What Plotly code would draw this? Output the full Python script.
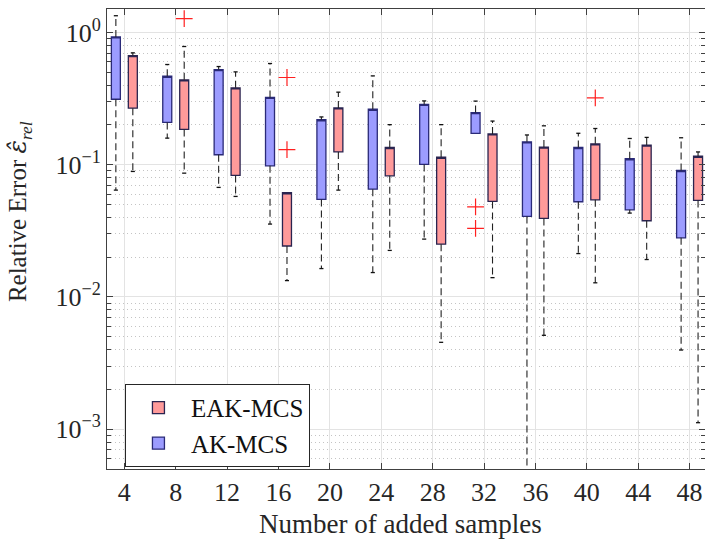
import plotly.graph_objects as go

samples = [4, 8, 12, 16, 20, 24, 28, 32, 36, 40, 44, 48]

# AK-MCS (blue)
ak_upper = [1.34, 0.573, 0.553, 0.583, 0.230, 0.470, 0.304, 0.303, 0.168, 0.173, 0.158, 0.160]
ak_q3 = [0.927, 0.467, 0.525, 0.323, 0.219, 0.263, 0.286, 0.248, 0.149, 0.135, 0.111, 0.0905]
ak_q1 = [0.313, 0.209, 0.119, 0.0982, 0.0547, 0.0654, 0.1005, 0.173, 0.0407, 0.0525, 0.0456, 0.0280]
ak_lower = [0.0643, 0.159, 0.0674, 0.0356, 0.0164, 0.0153, 0.0274, 0.173, 0.0002, 0.0213, 0.0431, 0.00397]
ak_out_x = [32, 32]
ak_out_y = [0.0481, 0.0330]

# EAK-MCS (red)
eak_upper = [0.702, 0.784, 0.504, 0.0614, 0.354, 0.201, 0.201, 0.214, 0.197, 0.188, 0.161, 0.125]
eak_q3 = [0.670, 0.439, 0.382, 0.0614, 0.269, 0.135, 0.114, 0.171, 0.136, 0.144, 0.141, 0.116]
eak_q1 = [0.268, 0.185, 0.0830, 0.0243, 0.125, 0.0824, 0.0251, 0.0528, 0.0393, 0.0543, 0.0377, 0.0537]
eak_lower = [0.0890, 0.0864, 0.0576, 0.0133, 0.0643, 0.0225, 0.00454, 0.0140, 0.00513, 0.0128, 0.0192, 0.00112]
eak_out_x = [8, 16, 16, 40]
eak_out_y = [1.276, 0.457, 0.130, 0.321]

y_tickvals = [1e-3, 1e-2, 1e-1, 1]
y_ticktext = ["10<sup>−3</sup>", "10<sup>−2</sup>", "10<sup>−1</sup>", "10<sup>0</sup>"]

FONT = "Liberation Serif"
OFF = 0.66
BOXW = 0.70
CAPW = 0.16

fig = go.Figure()


def whiskers(xs, q1, q3, lo, hi):
    wx, wy, cx, cy = [], [], [], []
    for x, a, b, l, h in zip(xs, q1, q3, lo, hi):
        if h > b:
            wx += [x, x, None]; wy += [b, h, None]
            cx += [x - CAPW, x + CAPW, None]; cy += [h, h, None]
        if l < a:
            wx += [x, x, None]; wy += [a, l, None]
            cx += [x - CAPW, x + CAPW, None]; cy += [l, l, None]
    return wx, wy, cx, cy


for name, sign, q1, q3, lo, hi, fill, edge in [
    ("EAK-MCS", +1, eak_q1, eak_q3, eak_lower, eak_upper, "#ff9a9a", "#2a2450"),
    ("AK-MCS", -1, ak_q1, ak_q3, ak_lower, ak_upper, "#9c9cff", "#2a2a78"),
]:
    xs = [s + sign * OFF for s in samples]
    wx, wy, cx, cy = whiskers(xs, q1, q3, lo, hi)
    fig.add_trace(go.Scatter(x=wx, y=wy, mode="lines", showlegend=False,
                             line=dict(color="#222222", width=1.1, dash="7px,4px"),
                             hoverinfo="skip"))
    fig.add_trace(go.Scatter(x=cx, y=cy, mode="lines", showlegend=False,
                             line=dict(color="#111111", width=1.3),
                             hoverinfo="skip"))
    fig.add_trace(go.Box(name=name, x=xs, q1=q1, median=q3, q3=q3,
                         lowerfence=q1, upperfence=q3, width=BOXW,
                         fillcolor=fill, line=dict(color=edge, width=1.3),
                         boxpoints=False, showlegend=True))

fig.add_trace(go.Scatter(x=[s - OFF for s in ak_out_x], y=ak_out_y, mode="markers",
                         showlegend=False,
                         marker=dict(symbol="cross-thin", size=12,
                                     line=dict(color="#ff2020", width=1.2))))
fig.add_trace(go.Scatter(x=[s + OFF for s in eak_out_x], y=eak_out_y, mode="markers",
                         showlegend=False,
                         marker=dict(symbol="cross-thin", size=12,
                                     line=dict(color="#ff2020", width=1.2))))

minor_vals = [m * 10 ** e for e in range(-4, 1) for m in range(2, 10)]

fig.update_layout(
    width=705, height=541,
    margin=dict(l=107, r=0, t=9, b=72, autoexpand=False),
    paper_bgcolor="white", plot_bgcolor="white",
    font=dict(family=FONT, size=24, color="#262626"),
    boxmode="overlay",
    showlegend=True,
    legend=dict(x=0.03, y=0.185, xanchor="left", yanchor="top",
                bgcolor="white", bordercolor="#262626", borderwidth=1,
                font=dict(size=25, color="#111111"), traceorder="normal",
                itemwidth=55, tracegroupgap=0),
    xaxis=dict(range=[2.65, 49.2], tickvals=samples, ticktext=[str(s) for s in samples],
               automargin=False,
               showgrid=True, gridcolor="#e3e3e3", gridwidth=1, zeroline=False,
               showline=True, linecolor="#404040", linewidth=1, mirror="ticks",
               ticks="inside", ticklen=6, tickcolor="#404040",
               tickfont=dict(size=26)),
    yaxis=dict(type="log", range=[-3.301, 0.178], tickvals=y_tickvals, ticktext=y_ticktext,
               automargin=False,
               showgrid=True, gridcolor="#e3e3e3", gridwidth=1, zeroline=False,
               showline=True, linecolor="#404040", linewidth=1, mirror="ticks",
               ticks="inside", ticklen=6, tickcolor="#404040",
               minor=dict(tickvals=minor_vals, showgrid=True, griddash="1px,3px",
                          gridcolor="#c4c4c4", gridwidth=1, ticks="inside",
                          ticklen=4, tickcolor="#404040"),
               tickfont=dict(size=26)),
    annotations=[
        dict(text="Number of added samples", xref="paper", yref="paper",
             x=0.49, y=-0.1195, xanchor="center", yanchor="middle",
             showarrow=False, font=dict(size=27, color="#262626")),
        dict(text="Relative Error <span style=\"font-family:DejaVu Serif\"><i>ε̂</i></span><sub><i>rel</i></sub>",
             xref="paper", yref="paper", x=-0.146, y=0.56, xanchor="center",
             yanchor="middle", textangle=-90, showarrow=False,
             font=dict(size=25, color="#262626")),
    ],
)

fig.write_html("out.html", config={"displayModeBar": False},
               post_script="document.body.style.margin='0px';document.body.style.padding='0px';")
